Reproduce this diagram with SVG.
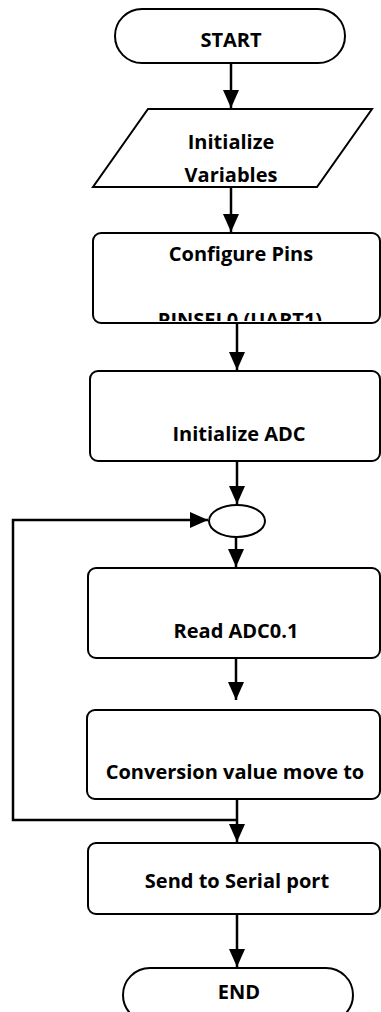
<svg xmlns="http://www.w3.org/2000/svg" width="381" height="1012" viewBox="0 0 381 1012">
  <style>
    .shape { fill: #ffffff; stroke: #000000; stroke-width: 2; }
    .lbl { font-family: "Open Sans", "Liberation Sans", sans-serif; font-weight: 700; font-size: 20px; fill: #000000; text-anchor: middle; }
    .flow { fill: none; stroke: #000000; stroke-width: 2.5; }
  </style>
  <defs>
    <!-- filled triangular arrowhead, tip at the end of the line -->
    <marker id="arrow" markerUnits="userSpaceOnUse" markerWidth="18" markerHeight="16" viewBox="0 0 18 16" refX="18" refY="8" orient="auto">
      <path d="M0,0 L18,8 L0,16 Z" fill="#000000"/>
    </marker>
    <clipPath id="pinsClip">
      <rect x="93" y="233" width="288" height="88"/>
    </clipPath>
  </defs>

  <!-- connectors -->
  <g id="connectors">
    <line class="flow" x1="231" y1="63" x2="231" y2="108" marker-end="url(#arrow)"/>
    <line class="flow" x1="231" y1="187" x2="231" y2="232" marker-end="url(#arrow)"/>
    <line class="flow" x1="237" y1="323" x2="237" y2="370" marker-end="url(#arrow)"/>
    <line class="flow" x1="237" y1="461" x2="237" y2="504" marker-end="url(#arrow)"/>
    <line class="flow" x1="236" y1="537" x2="236" y2="567" marker-end="url(#arrow)"/>
    <line class="flow" x1="236" y1="658" x2="236" y2="700" marker-end="url(#arrow)"/>
    <line class="flow" x1="237" y1="799" x2="237" y2="842" marker-end="url(#arrow)"/>
    <line class="flow" x1="237" y1="914" x2="237" y2="967" marker-end="url(#arrow)"/>
    <polyline class="flow" points="237,820 13,820 13,520 208,520" marker-end="url(#arrow)"/>
  </g>

  <g id="start">
    <rect class="shape" x="115" y="9" width="230" height="54" rx="27" ry="27"/>
    <text class="lbl" x="231" y="47">START</text>
  </g>

  <g id="init-vars">
    <polygon class="shape" points="148,109 372,109 317,187 93,187"/>
    <text class="lbl" x="231" y="149">Initialize</text>
    <text class="lbl" x="231" y="182">Variables</text>
  </g>

  <g id="config-pins">
    <rect class="shape" x="93" y="233" width="287" height="90" rx="8" ry="8"/>
    <text class="lbl" x="241" y="261">Configure Pins</text>
    <text class="lbl" x="240" y="327" clip-path="url(#pinsClip)">PINSEL0 (UART1)</text>
  </g>

  <g id="init-adc">
    <rect class="shape" x="90" y="371" width="290" height="90" rx="8" ry="8"/>
    <text class="lbl" x="239" y="441">Initialize ADC</text>
  </g>

  <g id="junction">
    <ellipse class="shape" cx="237" cy="521" rx="28" ry="16"/>
  </g>

  <g id="read-adc">
    <rect class="shape" x="88" y="568" width="292" height="90" rx="8" ry="8"/>
    <text class="lbl" x="236" y="638">Read ADC0.1</text>
  </g>

  <g id="conversion">
    <rect class="shape" x="87" y="710" width="293" height="89" rx="8" ry="8"/>
    <text class="lbl" x="235" y="779">Conversion value move to</text>
  </g>

  <g id="send-serial">
    <rect class="shape" x="88" y="843" width="292" height="71" rx="8" ry="8"/>
    <text class="lbl" x="237" y="888">Send to Serial port</text>
  </g>

  <g id="end">
    <rect class="shape" x="123" y="968" width="230" height="54" rx="27" ry="27"/>
    <text class="lbl" x="239" y="999">END</text>
  </g>
</svg>
